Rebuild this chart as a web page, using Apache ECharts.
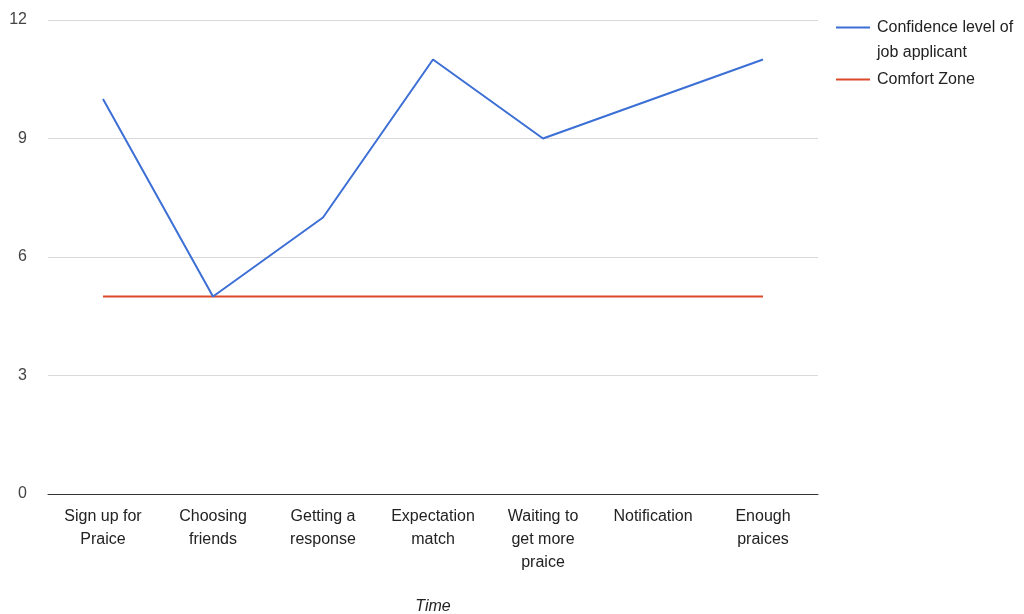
<!DOCTYPE html>
<html>
<head>
<meta charset="utf-8">
<script src="https://cdn.jsdelivr.net/npm/echarts@6/dist/echarts.min.js"></script>
<style>
  html, body { margin: 0; padding: 0; background: #fff; }
  #chart { width: 1024px; height: 614px; }
</style>
</head>
<body>
<div id="chart"></div>
<script>
// categories along the time axis (wrapped as in the original)
const stages = [
  'Sign up for\nPraice',
  'Choosing\nfriends',
  'Getting a\nresponse',
  'Expectation\nmatch',
  'Waiting to\nget more\npraice',
  'Notification',
  'Enough\npraices'
]
const confidence = [10, 5, 7, 11, 9, 10, 11]
const comfortZone = [5, 5, 5, 5, 5, 5, 5]
const yTicks = { min: 0, max: 12, step: 3 }

const font = 'Liberation Sans, Arial, sans-serif'
const chart = echarts.init(document.getElementById('chart'))

chart.setOption({
  animation: false,
  textStyle: { fontFamily: font },
  grid: { left: 48, right: 206, top: 20, bottom: 120, outerBoundsMode: 'none', containLabel: false },
  legend: {
    orient: 'vertical',
    left: 831,
    top: -15,
    itemWidth: 34,
    itemHeight: 2,
    itemGap: 2,
    icon: 'rect',
    textStyle: { fontSize: 16, color: '#222', lineHeight: 25, fontFamily: font, padding: [0, 0, 0, 2] },
    formatter: name => name === 'Confidence level of job applicant'
      ? '\nConfidence level of\njob applicant'
      : name,
    data: ['Confidence level of job applicant', 'Comfort Zone']
  },
  xAxis: {
    type: 'category',
    data: stages,
    boundaryGap: true,
    name: 'Time',
    nameLocation: 'middle',
    nameGap: 105,
    nameTextStyle: { fontStyle: 'italic', fontSize: 16, color: '#222' },
    axisLine: { lineStyle: { color: '#333', width: 1 } },
    axisTick: { show: false },
    axisLabel: {
      fontSize: 16,
      color: '#222',
      lineHeight: 23,
      margin: 11,
      interval: 0
    }
  },
  yAxis: {
    type: 'value',
    min: yTicks.min,
    max: yTicks.max,
    interval: yTicks.step,
    axisLine: { show: false },
    axisTick: { show: false },
    axisLabel: { fontSize: 16, color: '#444', margin: 21 },
    splitLine: { lineStyle: { color: '#d9d9d9', width: 1 } }
  },
  series: [
    {
      name: 'Confidence level of job applicant',
      type: 'line',
      data: confidence,
      showSymbol: false,
      symbol: 'none',
      lineStyle: { color: '#3c6fd6', width: 2 },
      itemStyle: { color: '#3c6fd6' },
      z: 3
    },
    {
      name: 'Comfort Zone',
      type: 'line',
      data: comfortZone,
      showSymbol: false,
      symbol: 'none',
      lineStyle: { color: '#dc4a2c', width: 2 },
      itemStyle: { color: '#dc4a2c' },
      z: 2
    }
  ]
})
</script>
</body>
</html>
